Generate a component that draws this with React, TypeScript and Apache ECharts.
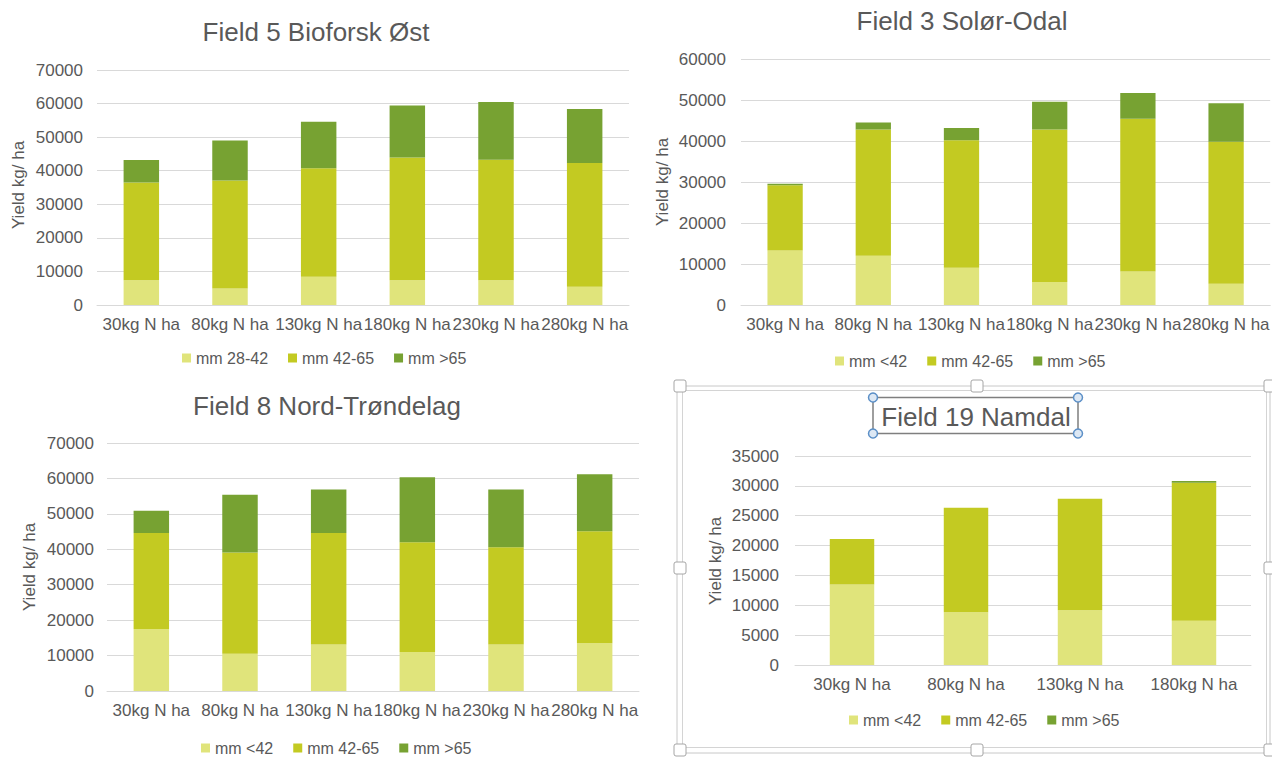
import React, { useEffect, useRef } from "react";
import * as echarts from "echarts";

const categories6 = ["30kg N ha", "80kg N ha", "130kg N ha", "180kg N ha", "230kg N ha", "280kg N ha"];
const categories4 = ["30kg N ha", "80kg N ha", "130kg N ha", "180kg N ha"];

// Field 5 Bioforsk Øst (stack segments)
const f5Small = [7400, 4900, 8400, 7400, 7400, 5400];
const f5Mid = [29100, 32200, 32300, 36500, 35900, 36900];
const f5Large = [6700, 11900, 13900, 15500, 17200, 16100];

// Field 3 Solør-Odal
const f3Small = [13300, 12000, 9100, 5600, 8200, 5200];
const f3Mid = [15900, 30800, 31100, 37200, 37200, 34600];
const f3Large = [400, 1700, 3000, 6800, 6300, 9400];

// Field 8 Nord-Trøndelag
const f8Small = [17500, 10500, 13100, 11000, 13100, 13500];
const f8Mid = [27100, 28600, 31500, 31000, 27500, 31600];
const f8Large = [6300, 16300, 12300, 18300, 16300, 16100];

// Field 19 Namdal
const f19Small = [13500, 8850, 9150, 7400];
const f19Mid = [7600, 17500, 18700, 23100];
const f19Large = [0, 0, 0, 300];

const legendA = ["mm 28-42", "mm 42-65", "mm >65"];
const legendB = ["mm <42", "mm 42-65", "mm >65"];

const titles = ["Field 5 Bioforsk Øst", "Field 3 Solør-Odal", "Field 8 Nord-Trøndelag", "Field 19 Namdal"];
const yName = "Yield kg/ ha";

const C_LIGHT = "#e0e47b";
const C_MID = "#c3ca22";
const C_DARK = "#77a232";
const TXT = "#595959";
const GRID = "#d9d9d9";
const FONT = "'Liberation Sans', Arial, sans-serif";

export default function App() {
  const ref = useRef<HTMLDivElement>(null);
  useEffect(() => {
    if (!ref.current) return;
    const chart = echarts.init(ref.current, null, { renderer: "svg" });

    const grids = [
      { left: 97, top: 70, width: 532, height: 235 },
      { left: 741, top: 59, width: 536, height: 246 },
      { left: 107, top: 443, width: 532, height: 248 },
      { left: 795, top: 456, width: 456, height: 209 },
    ];
    const yMax = [70000, 60000, 70000, 35000];
    const yInt = [10000, 10000, 10000, 5000];
    const yMargin = [14, 15, 13, 16];
    const cats = [categories6, categories6, categories6, categories4];

    const xAxis = grids.map((_, i) => ({
      type: "category",
      gridIndex: i,
      data: cats[i],
      axisLine: { lineStyle: { color: GRID, width: 1 } },
      axisTick: { show: false },
      axisLabel: { color: TXT, fontSize: 17, fontFamily: FONT, interval: 0, margin: 11, hideOverlap: false },
    }));
    const yAxis = grids.map((_, i) => ({
      type: "value",
      gridIndex: i,
      min: 0,
      max: yMax[i],
      interval: yInt[i],
      axisLine: { show: false },
      axisTick: { show: false },
      splitLine: { lineStyle: { color: GRID, width: 1 } },
      axisLabel: {
        color: TXT,
        fontSize: 17,
        fontFamily: FONT,
        margin: yMargin[i],
        formatter: (v: number) => String(v),
      },
    }));

    const sets = [
      { names: legendA, data: [f5Small, f5Mid, f5Large], bw: "40%" },
      { names: legendB, data: [f3Small, f3Mid, f3Large], bw: "40%" },
      { names: legendB, data: [f8Small, f8Mid, f8Large], bw: "40%" },
      { names: legendB, data: [f19Small, f19Mid, f19Large], bw: "39%" },
    ];
    const colors = [C_LIGHT, C_MID, C_DARK];
    const series: any[] = [];
    sets.forEach((s, gi) => {
      s.data.forEach((d, k) => {
        series.push({
          type: "bar",
          name: s.names[k],
          xAxisIndex: gi,
          yAxisIndex: gi,
          stack: "g" + gi,
          barWidth: s.bw,
          data: d,
          itemStyle: { color: colors[k] },
          emphasis: { disabled: true },
        });
      });
    });

    const legendPos = [
      { left: 177, y: 354, names: legendA },
      { left: 830, y: 357, names: legendB },
      { left: 196, y: 744, names: legendB },
      { left: 844, y: 716, names: legendB },
    ];
    const legend = legendPos.map((l) => ({
      left: l.left,
      top: l.y - 9,
      data: l.names,
      icon: "rect",
      itemWidth: 9,
      itemHeight: 9,
      itemGap: 20,
      selectedMode: false,
      textStyle: { color: TXT, fontSize: 16, fontFamily: FONT },
    }));

    const titlePos = [
      [316, 32],
      [962, 21],
      [327, 406],
      [976, 417],
    ];
    const yNamePos = [
      [18, 185],
      [662, 182],
      [29, 567],
      [715, 561],
    ];

    const graphics: any[] = [];
    // Selection frame around the fourth chart
    graphics.push({
      type: "rect",
      shape: { x: 677, y: 386, width: 593, height: 367 },
      style: { fill: "none", stroke: "#c8c8c8", lineWidth: 1 },
      silent: true,
    });
    graphics.push({
      type: "rect",
      shape: { x: 682.5, y: 390.5, width: 584, height: 357 },
      style: { fill: "none", stroke: "#d4d4d4", lineWidth: 1 },
      silent: true,
    });
    const handles = [
      [680, 386], [977, 386], [1270, 386],
      [680, 568], [1270, 568],
      [680, 750], [977, 750], [1270, 750],
    ];
    handles.forEach(([hx, hy]) => {
      graphics.push({
        type: "rect",
        shape: { x: hx - 6, y: hy - 6, width: 12, height: 12, r: 2 },
        style: { fill: "#ffffff", stroke: "#a6a6a6", lineWidth: 1 },
        silent: true,
      });
    });
    // Title selection box
    graphics.push({
      type: "rect",
      shape: { x: 873, y: 397.5, width: 205, height: 36 },
      style: { fill: "none", stroke: "#7f7f7f", lineWidth: 1.5 },
      silent: true,
    });
    [[873, 397.5], [1078, 397.5], [873, 433.5], [1078, 433.5]].forEach(([cx, cy]) => {
      graphics.push({
        type: "circle",
        shape: { cx, cy, r: 4.5 },
        style: { fill: "#dde8f4", stroke: "#5b8fc7", lineWidth: 1.5 },
        silent: true,
      });
    });
    titles.forEach((t, i) => {
      graphics.push({
        type: "text",
        x: titlePos[i][0],
        y: titlePos[i][1],
        style: {
          text: t,
          fill: TXT,
          fontSize: 26,
          fontFamily: FONT,
          align: "center",
          verticalAlign: "middle",
        },
        silent: true,
      });
      graphics.push({
        type: "text",
        x: yNamePos[i][0],
        y: yNamePos[i][1],
        rotation: Math.PI / 2,
        style: {
          text: yName,
          fill: TXT,
          fontSize: 17,
          fontFamily: FONT,
          align: "center",
          verticalAlign: "middle",
        },
        silent: true,
      });
    });

    chart.setOption({
      animation: false,
      backgroundColor: "#ffffff",
      grid: grids.map((g) => ({ ...g, containLabel: false })),
      xAxis,
      yAxis,
      legend,
      series,
      graphic: graphics,
    });
    return () => chart.dispose();
  }, []);
  return (
    <div
      ref={ref}
      style={{ position: "absolute", left: 0, top: 0, width: 1272, height: 769 }}
    />
  );
}
